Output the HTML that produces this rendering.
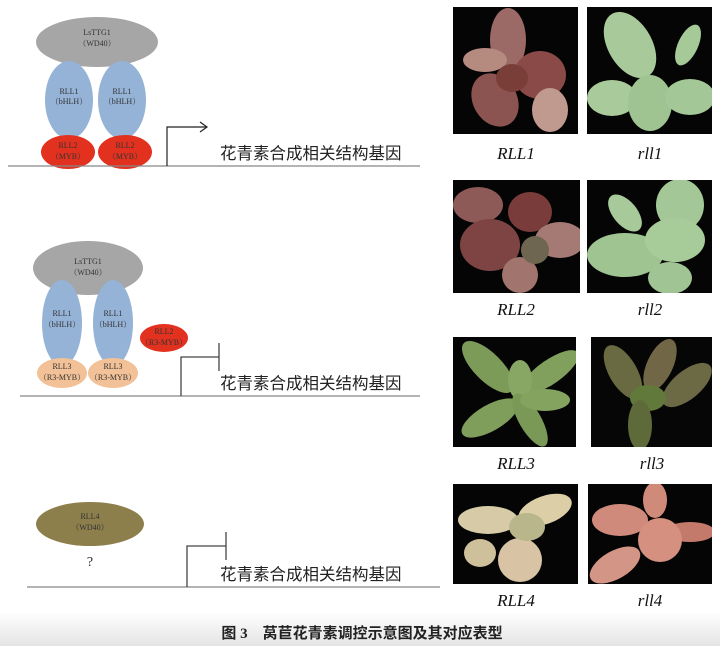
<!DOCTYPE html>
<html><head><meta charset="utf-8"><style>
html,body{margin:0;padding:0;background:#fff;}
svg{display:block}
.cn{font-family:"Liberation Serif","Noto Sans CJK SC",sans-serif;}
.sm{font-family:"Liberation Serif","Noto Serif CJK SC",serif;font-size:8px;fill:#333;text-anchor:middle}
.lab{font-family:"Liberation Serif",serif;font-style:italic;font-size:17px;fill:#111;text-anchor:middle}
</style></head><body>
<svg width="720" height="646" viewBox="0 0 720 646" xmlns="http://www.w3.org/2000/svg">
<defs>
<linearGradient id="bg" x1="0" y1="0" x2="0" y2="1"><stop offset="0" stop-color="#fff"/><stop offset="1" stop-color="#e4e4e4"/></linearGradient>
<clipPath id="c1"><rect x="453" y="7" width="125" height="127"/></clipPath>
<clipPath id="c2"><rect x="587" y="7" width="125" height="127"/></clipPath>
<clipPath id="c3"><rect x="453" y="180" width="127" height="113"/></clipPath>
<clipPath id="c4"><rect x="587" y="180" width="125" height="113"/></clipPath>
<clipPath id="c5"><rect x="453" y="337" width="123" height="110"/></clipPath>
<clipPath id="c6"><rect x="591" y="337" width="121" height="110"/></clipPath>
<clipPath id="c7"><rect x="453" y="484" width="125" height="100"/></clipPath>
<clipPath id="c8"><rect x="588" y="484" width="124" height="100"/></clipPath>
</defs>
<rect x="0" y="612" width="720" height="34" fill="url(#bg)"/>

<!-- Row 1 -->
<ellipse cx="97" cy="42" rx="61" ry="25" fill="#a6a6a6"/>
<text class="sm" x="97" y="35">LsTTG1</text><text class="sm" x="97" y="46">（WD40）</text>
<ellipse cx="69" cy="100" rx="24" ry="39" fill="#95b3d7"/>
<ellipse cx="122" cy="100" rx="24" ry="39" fill="#95b3d7"/>
<text class="sm" x="69" y="94">RLL1</text><text class="sm" x="69" y="104">（bHLH）</text>
<text class="sm" x="122" y="94">RLL1</text><text class="sm" x="122" y="104">（bHLH）</text>
<ellipse cx="68" cy="152" rx="27" ry="17" fill="#e3311f"/>
<ellipse cx="125" cy="152" rx="27" ry="17" fill="#e3311f"/>
<text class="sm" x="68" y="148">RLL2</text><text class="sm" x="68" y="159">（MYB）</text>
<text class="sm" x="125" y="148">RLL2</text><text class="sm" x="125" y="159">（MYB）</text>
<line x1="8" y1="166" x2="420" y2="166" stroke="#888" stroke-width="1.3"/>
<polyline points="167,166 167,127 206,127" fill="none" stroke="#222" stroke-width="1.2"/>
<polyline points="200,122 207,127 200,132" fill="none" stroke="#222" stroke-width="1.2"/>
<text class="cn" x="220" y="159" font-size="16.5" fill="#222">花青素合成相关结构基因</text>

<!-- Row 2 -->
<ellipse cx="88" cy="268" rx="55" ry="27" fill="#a6a6a6"/>
<text class="sm" x="88" y="264">LsTTG1</text><text class="sm" x="88" y="275">（WD40）</text>
<ellipse cx="62" cy="323" rx="20" ry="43" fill="#95b3d7"/>
<ellipse cx="113" cy="323" rx="20" ry="43" fill="#95b3d7"/>
<text class="sm" x="62" y="316">RLL1</text><text class="sm" x="62" y="327">（bHLH）</text>
<text class="sm" x="113" y="316">RLL1</text><text class="sm" x="113" y="327">（bHLH）</text>
<ellipse cx="62" cy="373" rx="25" ry="15" fill="#f2c197"/>
<ellipse cx="113" cy="373" rx="25" ry="15" fill="#f2c197"/>
<text class="sm" x="62" y="369">RLL3</text><text class="sm" x="62" y="380">（R3-MYB）</text>
<text class="sm" x="113" y="369">RLL3</text><text class="sm" x="113" y="380">（R3-MYB）</text>
<ellipse cx="164" cy="338" rx="24" ry="14" fill="#e3311f"/>
<text class="sm" x="164" y="334">RLL2</text><text class="sm" x="164" y="345">（R3-MYB）</text>
<line x1="20" y1="396" x2="420" y2="396" stroke="#888" stroke-width="1.3"/>
<polyline points="181,396 181,357 219,357" fill="none" stroke="#444" stroke-width="1.3"/>
<line x1="219" y1="343" x2="219" y2="371" stroke="#444" stroke-width="1.3"/>
<text class="cn" x="220" y="389" font-size="16.5" fill="#222">花青素合成相关结构基因</text>

<!-- Row 4 -->
<ellipse cx="90" cy="524" rx="54" ry="22" fill="#8c7f4c"/>
<text class="sm" x="90" y="519">RLL4</text><text class="sm" x="90" y="530">（WD40）</text>
<text x="90" y="566" font-family="Liberation Serif,serif" font-size="14" fill="#333" text-anchor="middle">?</text>
<line x1="27" y1="587" x2="440" y2="587" stroke="#888" stroke-width="1.3"/>
<polyline points="187,587 187,546 226,546" fill="none" stroke="#444" stroke-width="1.3"/>
<line x1="226" y1="532" x2="226" y2="560" stroke="#444" stroke-width="1.3"/>
<text class="cn" x="220" y="580" font-size="16.5" fill="#222">花青素合成相关结构基因</text>

<!-- Photos -->
<rect x="453" y="7" width="125" height="127" fill="#050505"/>
<g clip-path="url(#c1)">
<ellipse cx="508" cy="40" rx="18" ry="32" fill="#9c6a66"/>
<ellipse cx="485" cy="60" rx="22" ry="12" fill="#b58b80"/>
<ellipse cx="540" cy="75" rx="26" ry="24" fill="#8a4a48"/>
<ellipse cx="495" cy="100" rx="22" ry="28" fill="#8c5450" transform="rotate(-30 495 100)"/>
<ellipse cx="550" cy="110" rx="18" ry="22" fill="#c09a8f"/>
<ellipse cx="512" cy="78" rx="16" ry="14" fill="#7a3e38"/>
</g>
<rect x="587" y="7" width="125" height="127" fill="#050505"/>
<g clip-path="url(#c2)">
<ellipse cx="630" cy="45" rx="22" ry="36" fill="#a8c99a" transform="rotate(-30 630 45)"/>
<ellipse cx="688" cy="45" rx="10" ry="22" fill="#a6c998" transform="rotate(25 688 45)"/>
<ellipse cx="612" cy="98" rx="25" ry="18" fill="#a9cb9b"/>
<ellipse cx="650" cy="103" rx="22" ry="28" fill="#9fc491"/>
<ellipse cx="690" cy="97" rx="25" ry="18" fill="#a3c796"/>
</g>
<rect x="453" y="180" width="127" height="113" fill="#050505"/>
<g clip-path="url(#c3)">
<ellipse cx="478" cy="205" rx="25" ry="18" fill="#8e5a58"/>
<ellipse cx="530" cy="212" rx="22" ry="20" fill="#7a3c3a"/>
<ellipse cx="490" cy="245" rx="30" ry="26" fill="#7e4444"/>
<ellipse cx="560" cy="240" rx="25" ry="18" fill="#a67a74"/>
<ellipse cx="520" cy="275" rx="18" ry="18" fill="#a2746e"/>
<ellipse cx="535" cy="250" rx="14" ry="14" fill="#6e6650"/>
</g>
<rect x="587" y="180" width="125" height="113" fill="#050505"/>
<g clip-path="url(#c4)">
<ellipse cx="625" cy="213" rx="12" ry="22" fill="#a8c99a" transform="rotate(-40 625 213)"/>
<ellipse cx="680" cy="205" rx="24" ry="26" fill="#a3c796"/>
<ellipse cx="625" cy="255" rx="38" ry="22" fill="#9fc491"/>
<ellipse cx="675" cy="240" rx="30" ry="22" fill="#a8cb9a"/>
<ellipse cx="670" cy="278" rx="22" ry="16" fill="#a0c493"/>
</g>
<rect x="453" y="337" width="123" height="110" fill="#050505"/>
<g clip-path="url(#c5)">
<ellipse cx="488" cy="367" rx="14" ry="34" fill="#7c9a58" transform="rotate(-45 488 367)"/>
<ellipse cx="550" cy="372" rx="12" ry="34" fill="#81a05e" transform="rotate(55 550 372)"/>
<ellipse cx="520" cy="380" rx="12" ry="20" fill="#88a764"/>
<ellipse cx="490" cy="418" rx="13" ry="32" fill="#7f9e5b" transform="rotate(60 490 418)"/>
<ellipse cx="530" cy="420" rx="11" ry="30" fill="#7a9856" transform="rotate(-30 530 420)"/>
<ellipse cx="545" cy="400" rx="25" ry="11" fill="#83a35f"/>
</g>
<rect x="591" y="337" width="121" height="110" fill="#060606"/>
<g clip-path="url(#c6)">
<ellipse cx="623" cy="372" rx="14" ry="30" fill="#6a6a42" transform="rotate(-30 623 372)"/>
<ellipse cx="660" cy="365" rx="13" ry="28" fill="#716646" transform="rotate(25 660 365)"/>
<ellipse cx="687" cy="385" rx="14" ry="30" fill="#6c6a44" transform="rotate(50 687 385)"/>
<ellipse cx="648" cy="398" rx="18" ry="13" fill="#617a3c"/>
<ellipse cx="640" cy="425" rx="12" ry="25" fill="#5f6a3a"/>
</g>
<rect x="453" y="484" width="125" height="100" fill="#050505"/>
<g clip-path="url(#c7)">
<ellipse cx="488" cy="520" rx="30" ry="14" fill="#d6cba6"/>
<ellipse cx="545" cy="510" rx="28" ry="14" fill="#dccfa8" transform="rotate(-20 545 510)"/>
<ellipse cx="480" cy="553" rx="16" ry="14" fill="#cfc09c"/>
<ellipse cx="520" cy="560" rx="22" ry="22" fill="#d8c4a4"/>
<ellipse cx="527" cy="527" rx="18" ry="14" fill="#b8b68a"/>
</g>
<rect x="588" y="484" width="124" height="100" fill="#050505"/>
<g clip-path="url(#c8)">
<ellipse cx="620" cy="520" rx="28" ry="16" fill="#d08a7c"/>
<ellipse cx="655" cy="500" rx="12" ry="18" fill="#cf8a7a"/>
<ellipse cx="690" cy="532" rx="25" ry="10" fill="#c47a6b"/>
<ellipse cx="660" cy="540" rx="22" ry="22" fill="#d5907f"/>
<ellipse cx="615" cy="565" rx="28" ry="14" fill="#d39586" transform="rotate(-30 615 565)"/>
</g>

<text class="lab" x="516" y="159">RLL1</text>
<text class="lab" x="650" y="159">rll1</text>
<text class="lab" x="516" y="315">RLL2</text>
<text class="lab" x="650" y="315">rll2</text>
<text class="lab" x="516" y="469">RLL3</text>
<text class="lab" x="652" y="469">rll3</text>
<text class="lab" x="516" y="606">RLL4</text>
<text class="lab" x="650" y="606">rll4</text>

<text x="362" y="638" class="cn" font-size="15" font-weight="bold" fill="#222" text-anchor="middle">图 3　莴苣花青素调控示意图及其对应表型</text>
</svg>
</body></html>
